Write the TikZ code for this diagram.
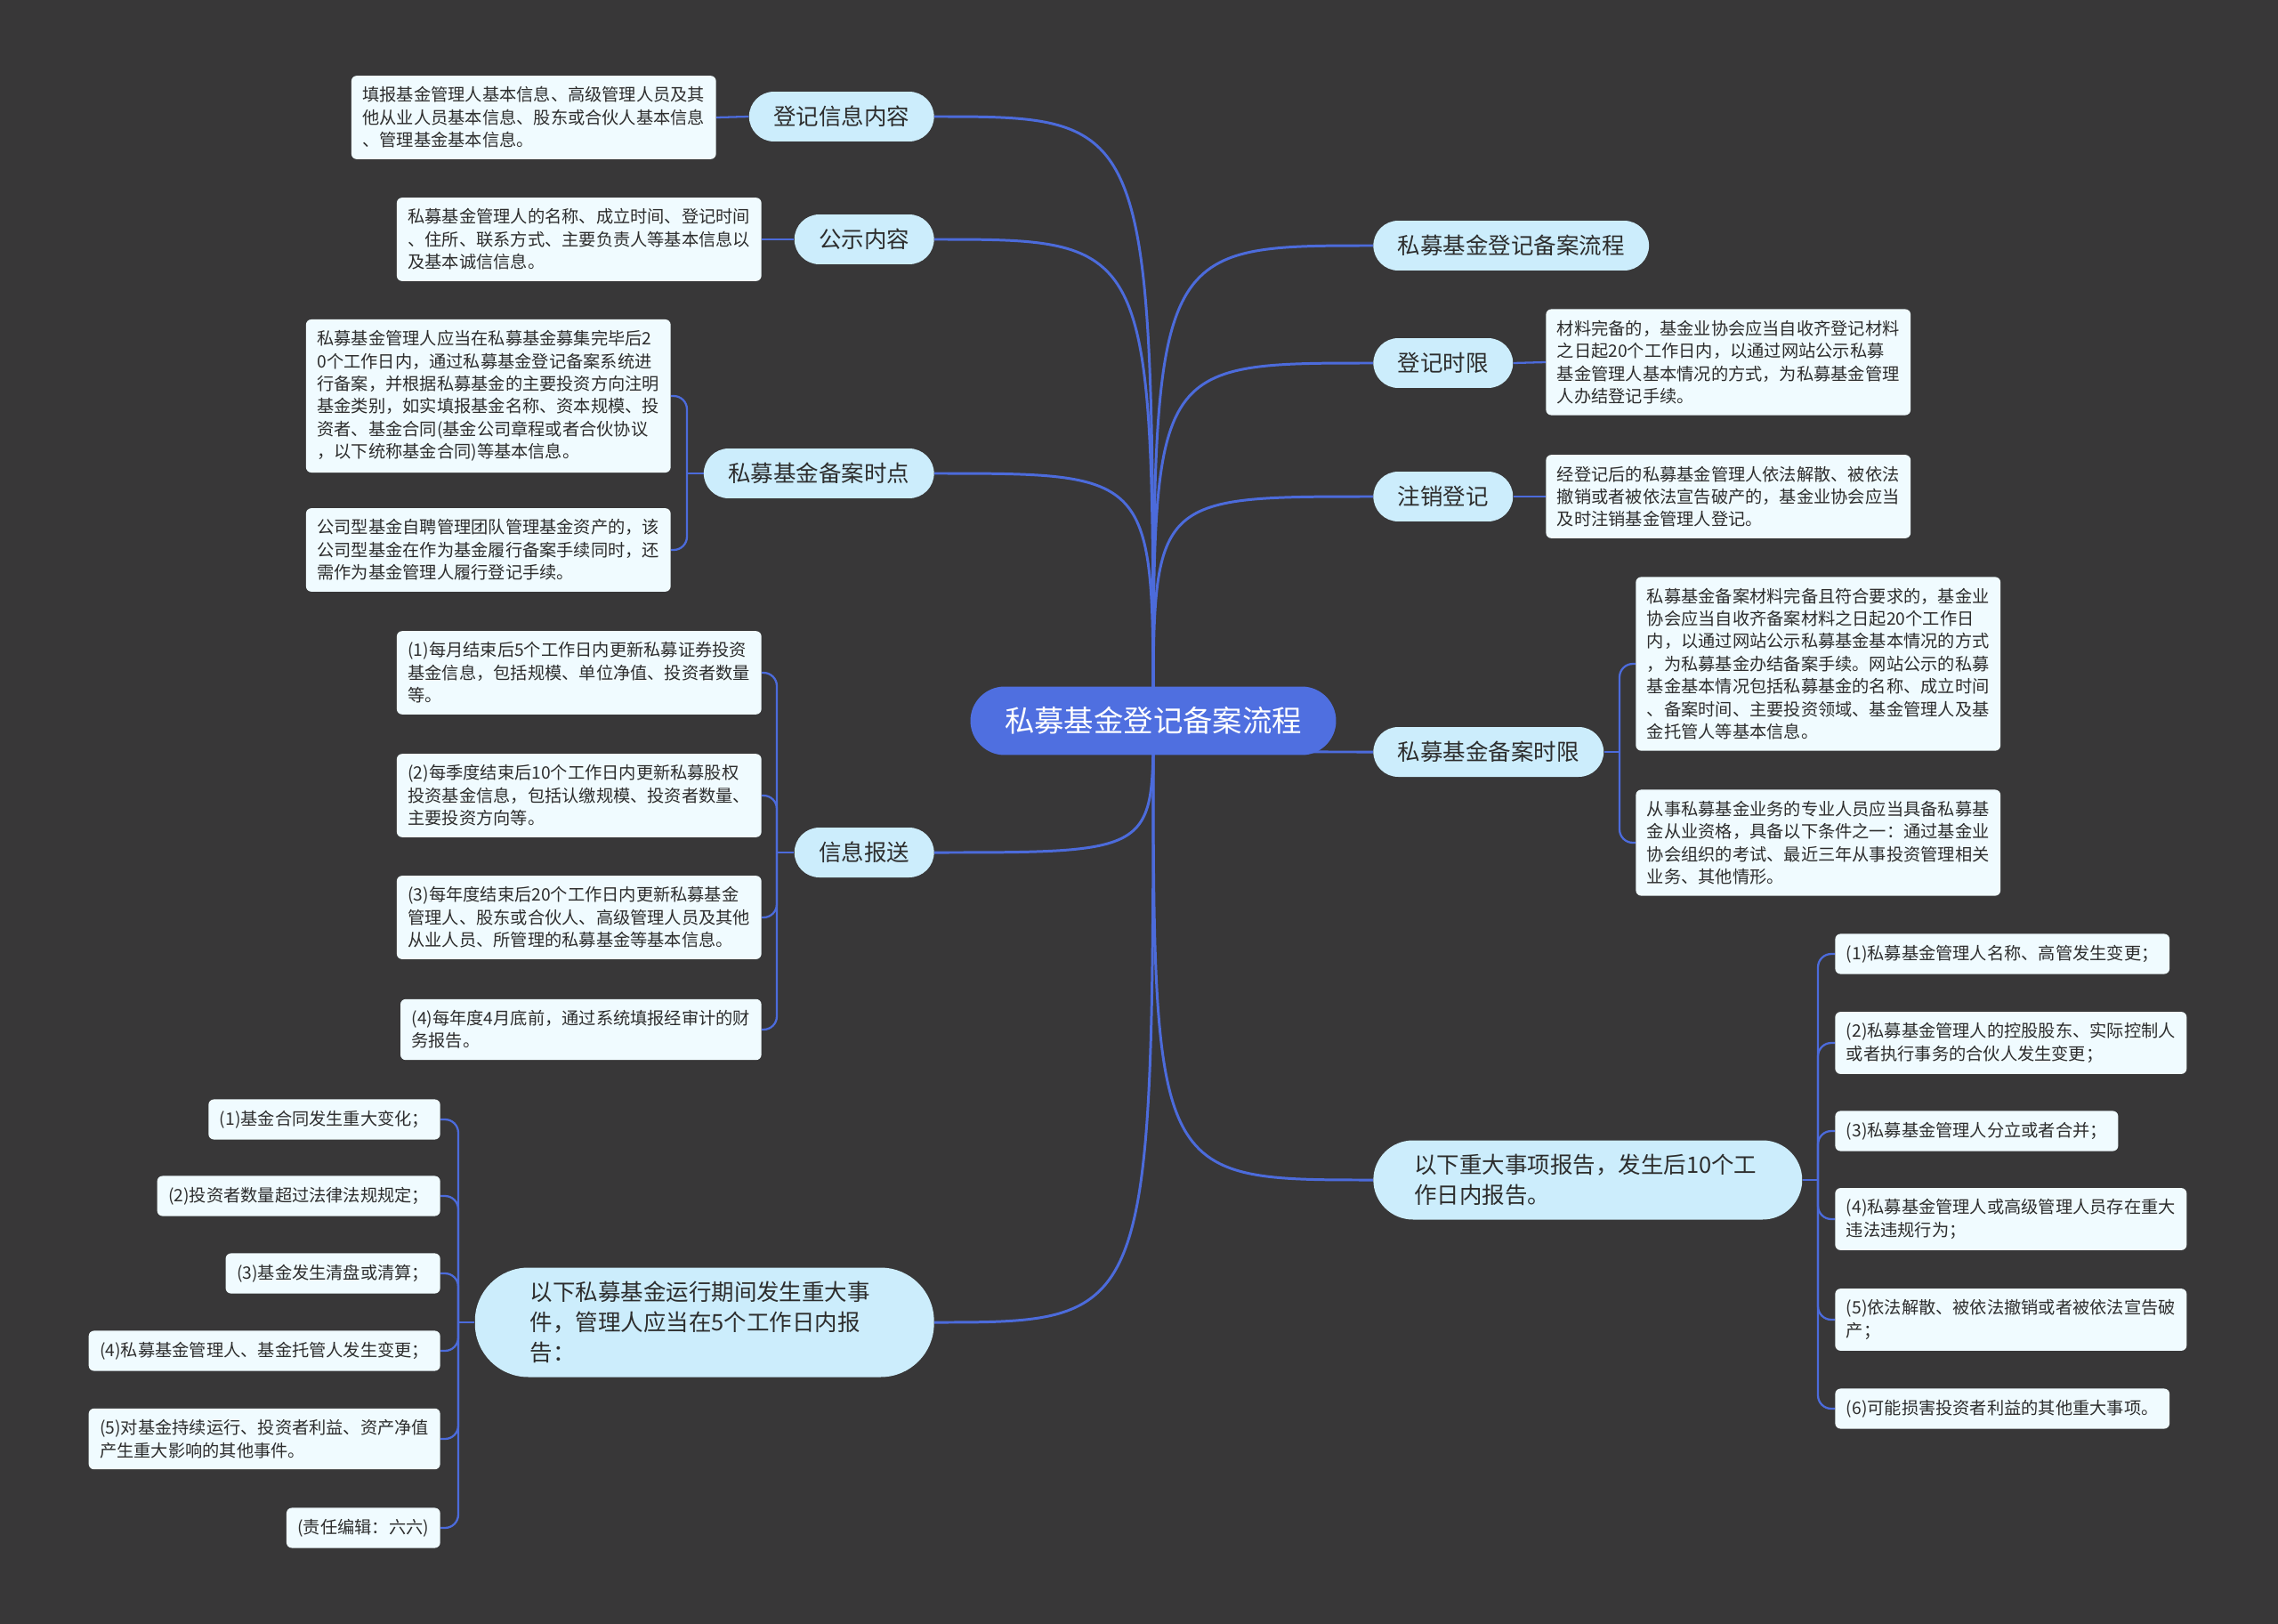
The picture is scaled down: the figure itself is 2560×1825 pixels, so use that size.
\documentclass[tikz,border=0pt]{standalone}
\usepackage{fontspec}
\setmainfont{Noto Sans CJK SC}
\definecolor{bgc}{RGB}{56,55,56}
\definecolor{rootblue}{RGB}{79,111,224}
\definecolor{edgeblue}{RGB}{76,107,219}
\definecolor{topicfill}{RGB}{204,237,252}
\definecolor{leaffill}{RGB}{240,251,255}
\definecolor{txt}{RGB}{45,45,45}
\pgfdeclarelayer{bglayer}
\pgfdeclarelayer{edgelayer}
\pgfsetlayers{bglayer,edgelayer,main}
\begin{document}
\begin{tikzpicture}[x=0.02cm,y=-0.02cm,
 rootnode/.style={fill=rootblue, text=white, rounded corners=0.77cm, minimum width=8.22cm, minimum height=1.54cm, inner sep=0pt, font=\fontsize{19pt}{23pt}\selectfont},
 topic/.style={fill=topicfill, text=txt, rounded corners=0.56cm, minimum height=1.12cm, inner xsep=0.55cm, inner ysep=0.2cm, font=\fontsize{14.5pt}{19.3pt}\selectfont},
 bigtopic/.style={topic, align=left},
 leaf/.style={fill=leaffill, text=txt, rounded corners=0.12cm, inner xsep=0.25cm, inner ysep=0.25cm, align=left, font=\fontsize{10.95pt}{14.45pt}\selectfont},
 edge/.style={draw=edgeblue, line width=1.7pt},
 twig/.style={draw=edgeblue, line width=1.3pt, rounded corners=0.3cm}
]
\useasboundingbox (0,0) rectangle (2560,1825);
\begin{pgfonlayer}{bglayer}
\fill[bgc] (0,0) rectangle (2560,1825);
\end{pgfonlayer}

% root
\node[rootnode] (root) at (1296,810) {私募基金登记备案流程};

% left topics
\node[topic, anchor=east] (djxx) at (1050,131) {登记信息内容};
\node[topic, anchor=east] (gs) at (1050,269) {公示内容};
\node[topic, anchor=east] (basd) at (1050,532) {私募基金备案时点};
\node[topic, anchor=east] (xxbs) at (1050,958) {信息报送};
\node[bigtopic, anchor=east, text width=7.84cm, inner xsep=1.24cm, minimum height=2.46cm, rounded corners=1.2cm] (yx) at (1050,1486) {以下私募基金运行期间发生重大事\\件，管理人应当在5个工作日内报\\告：};

% right topics
\node[topic, anchor=west] (lc) at (1543,276) {私募基金登记备案流程};
\node[topic, anchor=west] (djsx) at (1543,408) {登记时限};
\node[topic, anchor=west] (zxdj) at (1543,558) {注销登记};
\node[topic, anchor=west] (basx) at (1543,845) {私募基金备案时限};
\node[bigtopic, anchor=west, text width=7.8cm, inner xsep=0.92cm, minimum height=1.78cm, rounded corners=0.89cm] (zdsx) at (1543,1326) {以下重大事项报告，发生后10个工\\作日内报告。};

% left leaves
\node[leaf, anchor=east] (la) at (805,132) {填报基金管理人基本信息、高级管理人员及其\\他从业人员基本信息、股东或合伙人基本信息\\、管理基金基本信息。};
\node[leaf, anchor=east] (lb) at (856,269) {私募基金管理人的名称、成立时间、登记时间\\、住所、联系方式、主要负责人等基本信息以\\及基本诚信信息。};
\node[leaf, anchor=east] (lc1) at (754,445) {私募基金管理人应当在私募基金募集完毕后2\\0个工作日内，通过私募基金登记备案系统进\\行备案，并根据私募基金的主要投资方向注明\\基金类别，如实填报基金名称、资本规模、投\\资者、基金合同(基金公司章程或者合伙协议\\，以下统称基金合同)等基本信息。};
\node[leaf, anchor=east] (lc2) at (754,618) {公司型基金自聘管理团队管理基金资产的，该\\公司型基金在作为基金履行备案手续同时，还\\需作为基金管理人履行登记手续。};

\node[leaf, anchor=east] (ir1) at (856,756) {(1)每月结束后5个工作日内更新私募证券投资\\基金信息，包括规模、单位净值、投资者数量\\等。};
\node[leaf, anchor=east] (ir2) at (856,894) {(2)每季度结束后10个工作日内更新私募股权\\投资基金信息，包括认缴规模、投资者数量、\\主要投资方向等。};
\node[leaf, anchor=east] (ir3) at (856,1031) {(3)每年度结束后20个工作日内更新私募基金\\管理人、股东或合伙人、高级管理人员及其他\\从业人员、所管理的私募基金等基本信息。};
\node[leaf, anchor=east] (ir4) at (856,1157) {(4)每年度4月底前，通过系统填报经审计的财\\务报告。};

\node[leaf, anchor=east] (bl1) at (495,1258) {(1)基金合同发生重大变化；};
\node[leaf, anchor=east] (bl2) at (495,1344) {(2)投资者数量超过法律法规规定；};
\node[leaf, anchor=east] (bl3) at (495,1431) {(3)基金发生清盘或清算；};
\node[leaf, anchor=east] (bl4) at (495,1518) {(4)私募基金管理人、基金托管人发生变更；};
\node[leaf, anchor=east] (bl5) at (495,1617) {(5)对基金持续运行、投资者利益、资产净值\\产生重大影响的其他事件。};
\node[leaf, anchor=east] (bl6) at (495,1717) {(责任编辑：六六)};

% right leaves
\node[leaf, anchor=west] (rd) at (1737,407) {材料完备的，基金业协会应当自收齐登记材料\\之日起20个工作日内，以通过网站公示私募\\基金管理人基本情况的方式，为私募基金管理\\人办结登记手续。};
\node[leaf, anchor=west] (rz) at (1737,558) {经登记后的私募基金管理人依法解散、被依法\\撤销或者被依法宣告破产的，基金业协会应当\\及时注销基金管理人登记。};
\node[leaf, anchor=west] (rb1) at (1838,746) {私募基金备案材料完备且符合要求的，基金业\\协会应当自收齐备案材料之日起20个工作日\\内，以通过网站公示私募基金基本情况的方式\\，为私募基金办结备案手续。网站公示的私募\\基金基本情况包括私募基金的名称、成立时间\\、备案时间、主要投资领域、基金管理人及基\\金托管人等基本信息。};
\node[leaf, anchor=west] (rb2) at (1838,947) {从事私募基金业务的专业人员应当具备私募基\\金从业资格，具备以下条件之一：通过基金业\\协会组织的考试、最近三年从事投资管理相关\\业务、其他情形。};

\node[leaf, anchor=west] (zd1) at (2062,1072) {(1)私募基金管理人名称、高管发生变更；};
\node[leaf, anchor=west] (zd2) at (2062,1172) {(2)私募基金管理人的控股股东、实际控制人\\或者执行事务的合伙人发生变更；};
\node[leaf, anchor=west] (zd3) at (2062,1271) {(3)私募基金管理人分立或者合并；};
\node[leaf, anchor=west] (zd4) at (2062,1370) {(4)私募基金管理人或高级管理人员存在重大\\违法违规行为；};
\node[leaf, anchor=west] (zd5) at (2062,1483) {(5)依法解散、被依法撤销或者被依法宣告破\\产；};
\node[leaf, anchor=west] (zd6) at (2062,1583) {(6)可能损害投资者利益的其他重大事项。};

% bracket points
\coordinate (kbasd) at (772,532);
\coordinate (kxxbs) at (873,958);
\coordinate (kyx) at (515,1486);
\coordinate (kbasx) at (1820,845);
\coordinate (kzdsx) at (2043,1326);

\begin{pgfonlayer}{edgelayer}
% root branches
\foreach \t in {djxx,gs,basd,xxbs,yx}
  \draw[edge] (root.center) .. controls (root.center |- \t.east) .. (\t.east);
\foreach \t in {lc,djsx,zxdj,basx,zdsx}
  \draw[edge] (root.center) .. controls (root.center |- \t.west) .. (\t.west);
% single leaves
\draw[twig] (djxx.west) -- (la.east);
\draw[twig] (gs.west) -- (lb.east);
\draw[twig] (djsx.east) -- (rd.west);
\draw[twig] (zxdj.east) -- (rz.west);
% brackets
\draw[twig] (basd.west) -- (kbasd);
\foreach \c in {lc1,lc2} \draw[twig] (kbasd) |- (\c.east);
\draw[twig] (xxbs.west) -- (kxxbs);
\foreach \c in {ir1,ir2,ir3,ir4} \draw[twig] (kxxbs) |- (\c.east);
\draw[twig] (yx.west) -- (kyx);
\foreach \c in {bl1,bl2,bl3,bl4,bl5,bl6} \draw[twig] (kyx) |- (\c.east);
\draw[twig] (basx.east) -- (kbasx);
\foreach \c in {rb1,rb2} \draw[twig] (kbasx) |- (\c.west);
\draw[twig] (zdsx.east) -- (kzdsx);
\foreach \c in {zd1,zd2,zd3,zd4,zd5,zd6} \draw[twig] (kzdsx) |- (\c.west);
\end{pgfonlayer}
\end{tikzpicture}
\end{document}
